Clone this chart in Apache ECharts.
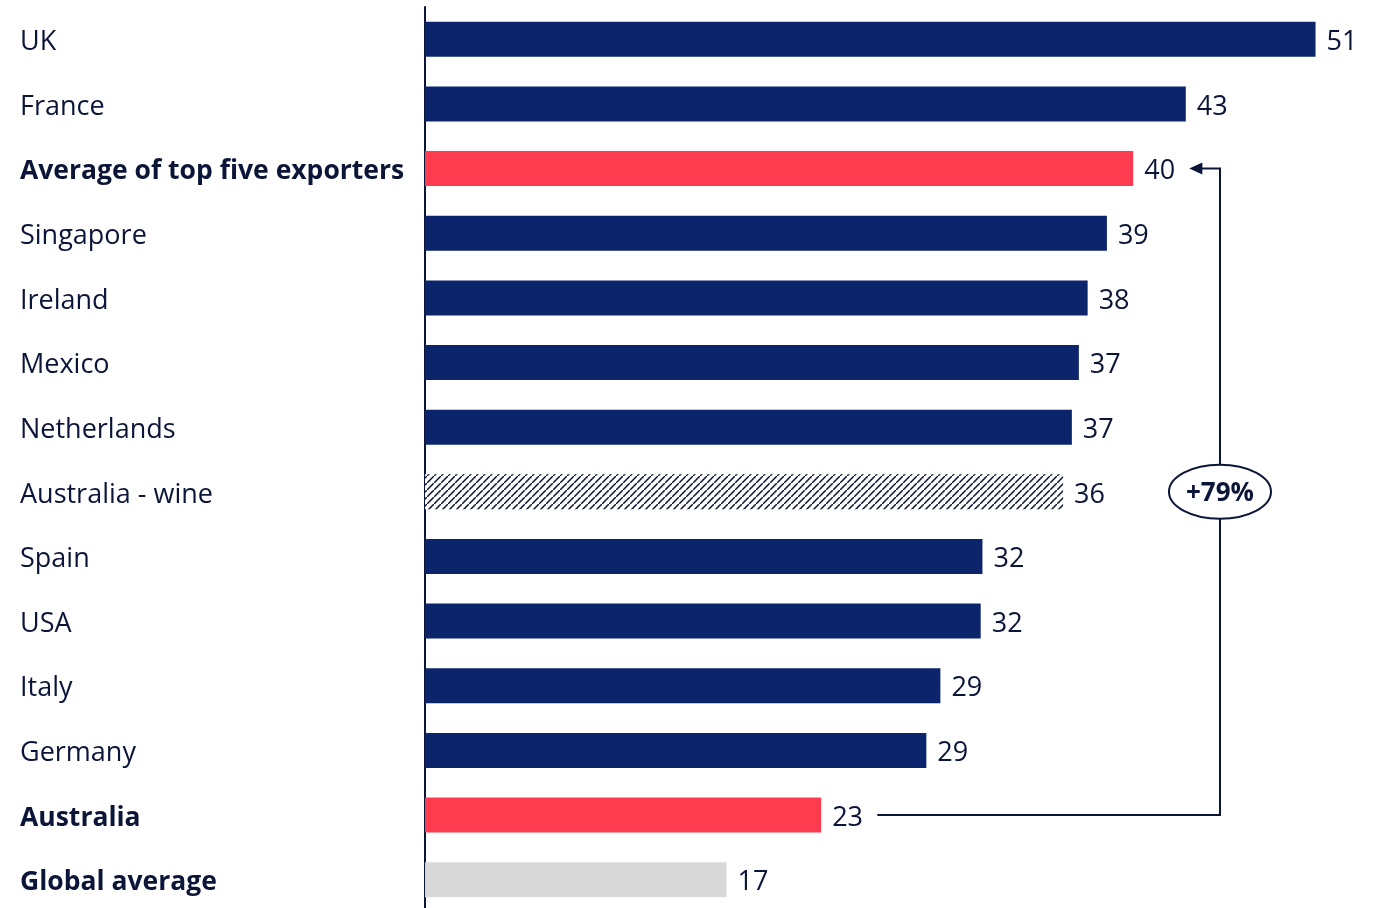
<!DOCTYPE html>
<html><head><meta charset="utf-8">
<script src="https://cdn.jsdelivr.net/npm/echarts@6/dist/echarts.min.js"></script>
<style>html,body{margin:0;padding:0;background:#fff;overflow:hidden}#c{width:1381px;height:912px}</style>
</head><body><div id="c"></div>
<script>
const categories = ['UK','France','Average of top five exporters','Singapore','Ireland','Mexico','Netherlands','Australia - wine','Spain','USA','Italy','Germany','Australia','Global average'];
const values = [50.8, 43.4, 40.4, 38.9, 37.8, 37.3, 36.9, 36.4, 31.8, 31.7, 29.4, 28.6, 22.6, 17.2];
const kinds = ['n','n','r','n','n','n','n','h','n','n','n','n','r','g'];
const boldCats = ['Average of top five exporters','Australia','Global average'];
const annotationText = '+79%';
const annFromIdx = 12, annToIdx = 2;
const annLineX = 45.35, annStartX = 25.8, annArrowTipX = 43.6;

const NAVY = '#0B246B', RED = '#FF3B50', GREY = '#D9D9D9', TXT = '#0b1538';
const FONT = 'Open Sans';

// hatch pattern
const P = 7;
const pc = document.createElement('canvas');
pc.width = P; pc.height = P;
const px = pc.getContext('2d');
px.fillStyle = '#fff'; px.fillRect(0,0,P,P);
px.strokeStyle = '#0b1538'; px.lineWidth = 1.5;
px.beginPath();
px.moveTo(-1,P+1); px.lineTo(P+1,-1);
px.moveTo(-P-1,1); px.lineTo(1,-P-1);
px.moveTo(P-1,2*P+1); px.lineTo(2*P+1,P-1);
px.stroke();

function colorFor(k){
  if(k==='n') return NAVY;
  if(k==='r') return RED;
  if(k==='g') return GREY;
  return {image: pc, repeat: 'repeat'};
}

const chart = echarts.init(document.getElementById('c'));
const unit = 17.53, xmax = 52;
chart.setOption({
  animation:false,
  grid:{left:425, top:7, width: unit*xmax, bottom:0, containLabel:false},
  xAxis:{type:'value', min:0, max:xmax, show:false},
  yAxis:{type:'category', data:categories, inverse:true,
    axisLine:{show:true, lineStyle:{color:TXT, width:2}},
    axisTick:{show:false},
    axisLabel:{align:'left', margin:405, fontFamily:FONT, fontSize:27, color:TXT, padding:[6,0,0,0],
      formatter:v=> boldCats.includes(v) ? '{b|'+v+'}' : v,
      rich:{b:{fontWeight:'bold', fontFamily:FONT, fontSize:26.5, color:TXT}}}
  },
  series:[{type:'bar', barWidth:35,
    data: values.map((v,i)=>({value:v, itemStyle:{color:colorFor(kinds[i])}})),
    label:{show:true, position:'right', distance:11, offset:[0,3], fontFamily:FONT, fontSize:27, color:TXT,
      formatter:p=>Math.round(p.value)}
  }]
});

const yA = chart.convertToPixel({yAxisIndex:0}, annFromIdx);
const yB = chart.convertToPixel({yAxisIndex:0}, annToIdx);
const xL = chart.convertToPixel({xAxisIndex:0}, annLineX);
const xS = chart.convertToPixel({xAxisIndex:0}, annStartX);
const xT = chart.convertToPixel({xAxisIndex:0}, annArrowTipX);
const yMid = chart.convertToPixel({yAxisIndex:0}, 7);
chart.setOption({graphic:[
  {type:'polyline', shape:{points:[[xS,yA],[xL,yA],[xL,yB],[xT+8,yB]]}, style:{stroke:TXT, lineWidth:2, fill:null}},
  {type:'polygon', shape:{points:[[xT,yB],[xT+13,yB-6],[xT+13,yB+6]]}, style:{fill:TXT}},
  {type:'ellipse', shape:{cx:xL, cy:yMid, rx:51, ry:27}, style:{fill:'#fff', stroke:TXT, lineWidth:2}},
  {type:'text', x:xL, y:yMid+2, style:{text:annotationText, fontFamily:FONT, fontWeight:'bold', fontSize:26, fill:TXT, align:'center', verticalAlign:'middle'}}
]});
</script></body></html>
